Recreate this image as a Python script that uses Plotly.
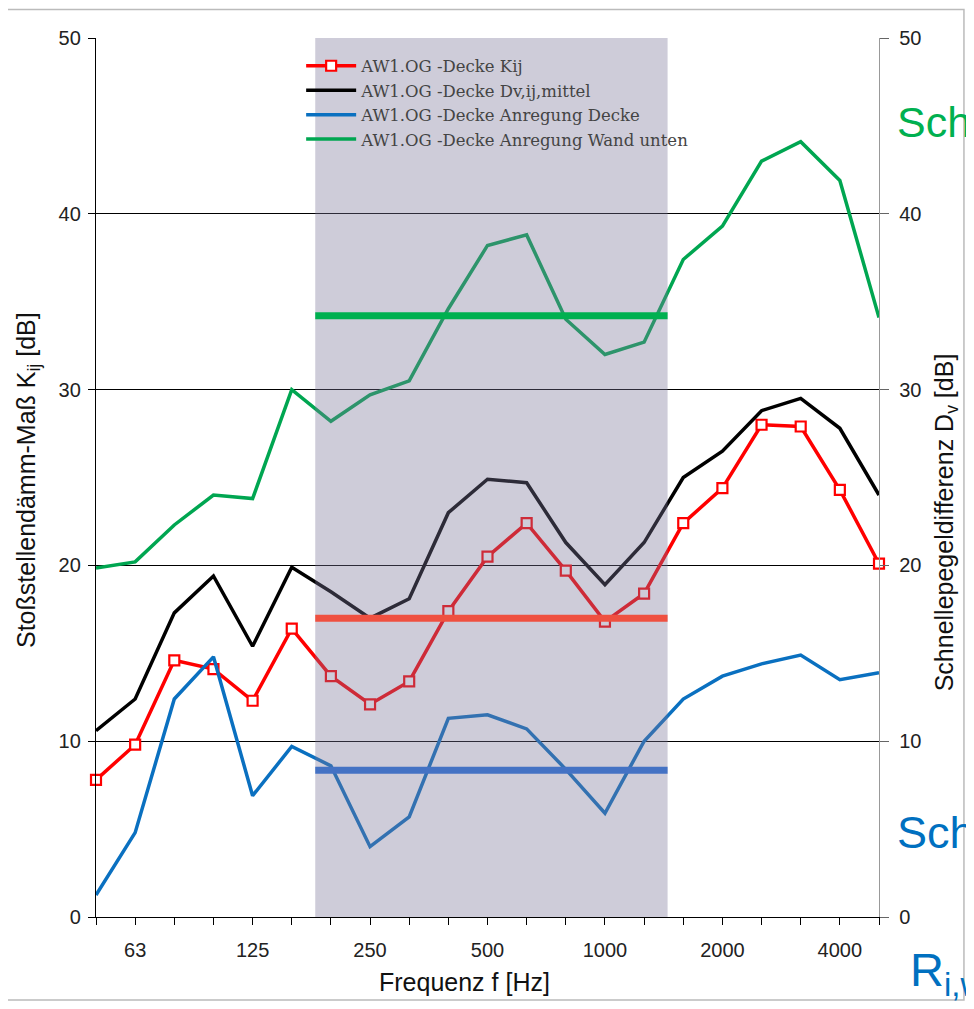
import plotly.graph_objects as go

# third-octave bands, labels only on the octaves
freqs = ["50", "63", "80", "100", "125", "160", "200", "250", "315", "400", "500",
         "630", "800", "1000", "1250", "1600", "2000", "2500", "3150", "4000", "5000"]
octave_labels = ["63", "125", "250", "500", "1000", "2000", "4000"]

kij = [7.8, 9.8, 14.6, 14.1, 12.3, 16.4, 13.7, 12.1, 13.4, 17.4, 20.5,
       22.4, 19.7, 16.8, 18.4, 22.4, 24.4, 28.0, 27.9, 24.3, 20.1]
dv_mittel = [10.6, 12.4, 17.3, 19.4, 15.4, 19.9, 18.5, 17.0, 18.1, 23.0, 24.9,
             24.7, 21.3, 18.9, 21.3, 25.0, 26.5, 28.8, 29.5, 27.8, 24.0]
anr_decke = [1.25, 4.8, 12.4, 14.8, 6.9, 9.7, 8.6, 4.0, 5.7, 11.3, 11.5,
             10.7, 8.4, 5.9, 10.0, 12.4, 13.7, 14.4, 14.9, 13.5, 13.9]
anr_wand = [19.85, 20.2, 22.3, 24.0, 23.8, 30.0, 28.2, 29.7, 30.5, 34.6, 38.2,
            38.8, 34.0, 32.0, 32.7, 37.4, 39.3, 43.0, 44.1, 41.9, 34.1]

# mean values drawn across the shaded range
mean_wand = 34.2
mean_kij = 17.0
mean_decke = 8.35

idx = list(range(len(freqs)))
band = [5.6, 14.6]  # shaded range in band index units

font = "Liberation Sans, Arial, sans-serif"

fig = go.Figure()

fig.add_trace(go.Scatter(
    x=idx, y=kij, name="AW1.OG -Decke Kij", mode="lines+markers",
    line=dict(color="#ff0000", width=3.5),
    marker=dict(symbol="square", size=10, color="white",
                line=dict(color="#ff0000", width=2.2)),
    cliponaxis=False))
fig.add_trace(go.Scatter(
    x=idx, y=dv_mittel, name="AW1.OG -Decke Dv,ij,mittel", mode="lines",
    line=dict(color="#000000", width=3.5), yaxis="y2"))
fig.add_trace(go.Scatter(
    x=idx, y=anr_decke, name="AW1.OG -Decke Anregung Decke", mode="lines",
    line=dict(color="#0a70c0", width=3.5), yaxis="y2"))
fig.add_trace(go.Scatter(
    x=idx, y=anr_wand, name="AW1.OG -Decke Anregung Wand unten", mode="lines",
    line=dict(color="#00a651", width=3.5), yaxis="y2"))

# translucent grey band over the curves
fig.add_trace(go.Scatter(
    x=[band[0], band[1], band[1], band[0], band[0]], y=[0, 0, 50, 50, 0],
    fill="toself", fillcolor="rgba(123,118,151,0.37)", mode="lines",
    line=dict(width=0), showlegend=False, hoverinfo="skip", yaxis="y2"))

for val, col in [(mean_wand, "#00b050"), (mean_kij, "#ef5040"), (mean_decke, "#4472c4")]:
    fig.add_trace(go.Scatter(
        x=band, y=[val, val], mode="lines", line=dict(color=col, width=7),
        showlegend=False, yaxis="y2"))

ticktext = [f if f in octave_labels else "" for f in freqs]

# page has an 8px body margin, so keep the whole figure inside the window
fig.update_layout(
    width=958, height=993,
    margin=dict(l=88, r=87, t=30, b=84),
    paper_bgcolor="white", plot_bgcolor="white",
    font=dict(family=font, size=20, color="#222"),
    showlegend=True,
    legend=dict(x=0.262, y=0.988, xanchor="left", yanchor="top", itemwidth=50,
                bgcolor="rgba(0,0,0,0)", tracegroupgap=0,
                font=dict(family="DejaVu Serif, serif", size=16.5, color="#444")),
    xaxis=dict(range=[0, 20], tickvals=idx, ticktext=ticktext, automargin=False,
               showgrid=False, zeroline=False, showline=True, linecolor="black", linewidth=1.3,
               ticks="outside", ticklen=7, tickcolor="black", ticklabelstandoff=8),
    yaxis=dict(range=[0, 50], dtick=10, showgrid=True, gridcolor="black", gridwidth=1,
               automargin=False, zeroline=False, showline=True, linecolor="black", linewidth=1.3,
               ticks="outside", ticklen=7, tickcolor="black", ticklabelstandoff=3),
    yaxis2=dict(range=[0, 50], dtick=10, overlaying="y", side="right", showgrid=False,
                automargin=False, zeroline=False, showline=True, linecolor="#999", linewidth=1.3,
                ticks="outside", ticklen=9, tickcolor="#666", ticklabelstandoff=6),
)

# axis titles
fig.add_annotation(text="Stoßstellendämm-Maß K<sub>ij</sub> [dB]", textangle=-90,
                   xref="paper", yref="paper", x=-0.087, y=0.497, showarrow=False,
                   xanchor="center", yanchor="middle", font=dict(size=25, color="#111"))
fig.add_annotation(text="Schnellepegeldifferenz D<sub>v</sub> [dB]", textangle=-90,
                   xref="paper", yref="paper", x=1.0856, y=0.449, showarrow=False,
                   xanchor="center", yanchor="middle", font=dict(size=25, color="#111"))
fig.add_annotation(text="Frequenz f [Hz]", xref="paper", yref="paper", x=0.47, y=-0.074,
                   xanchor="center", yanchor="middle", showarrow=False,
                   font=dict(size=25, color="#111"))

# cut-off slide text at the right edge
fig.add_annotation(text="Sch", xref="paper", yref="paper", x=1.0204, y=0.904,
                   xanchor="left", yanchor="middle", showarrow=False,
                   font=dict(size=43, color="#00b050"))
fig.add_annotation(text="Sch", xref="paper", yref="paper", x=1.0204, y=0.0956,
                   xanchor="left", yanchor="middle", showarrow=False,
                   font=dict(size=45, color="#0070c0"))
fig.add_annotation(text="R<sub>i,w</sub>", xref="paper", yref="paper", x=1.037, y=-0.064,
                   xanchor="left", yanchor="middle", showarrow=False,
                   font=dict(size=47, color="#0070c0"))

# thin frame of the screenshot (top/right/bottom edges)
fig.add_shape(type="rect", xref="paper", yref="paper", x0=-0.2, x1=1.1085, y0=-0.0945, y1=1.0325,
              line=dict(color="#bbbbbb", width=1.5), layer="below")

fig.write_html("out.html")
